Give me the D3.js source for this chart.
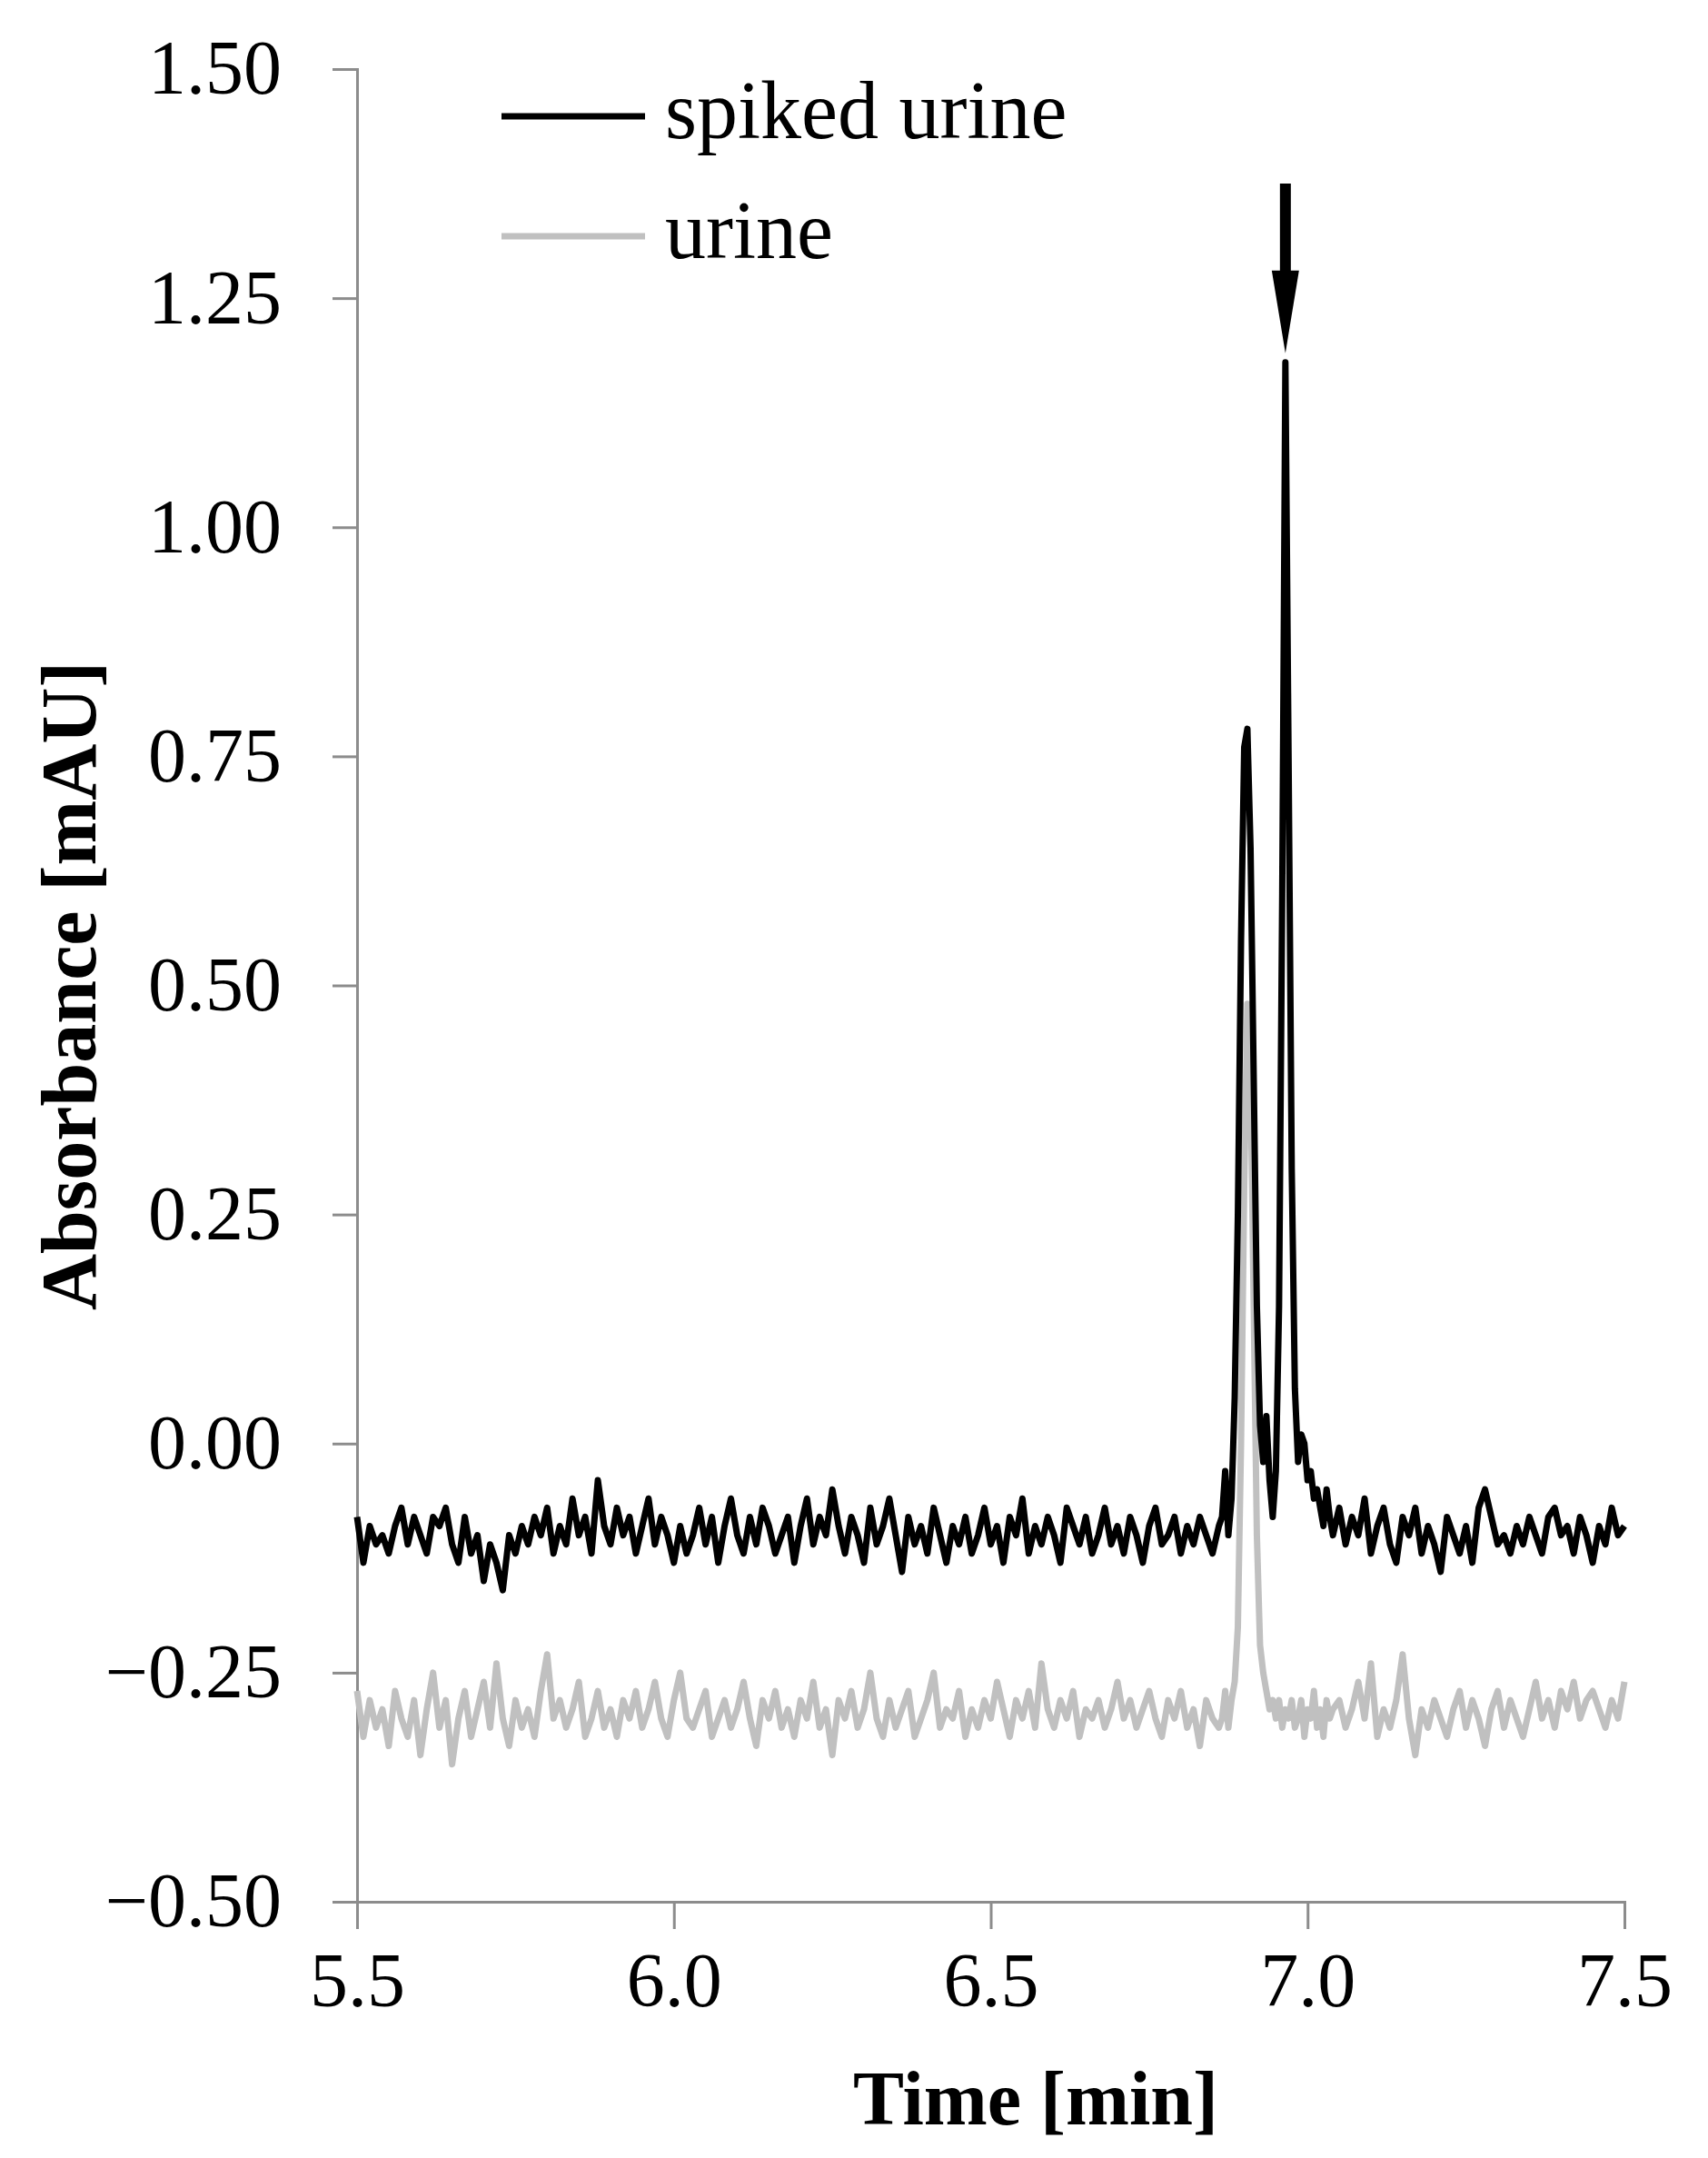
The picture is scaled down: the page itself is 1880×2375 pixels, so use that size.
<!DOCTYPE html><html><head><meta charset="utf-8"><script src="https://cdn.jsdelivr.net/npm/d3@7"></script>
<style>body{margin:0;background:#fff}</style></head><body><svg id="c" width="1880" height="2375"></svg>
<script>
const timesCoarseA = d3.range(137).map(i => +(5.5 + i*0.01).toFixed(3));
const timesFine = [6.865,6.87,6.875,6.88,6.885,6.89,6.895,6.9,6.905,6.91,6.915,6.92,6.925,6.93,6.935,6.94,6.945,6.95,6.955,6.96,6.965,6.97,6.975,6.98,6.985,6.99,6.995,7.0,7.005,7.01,7.015,7.02,7.025,7.03,7.035,7.04];
const timesCoarseB = d3.range(46).map(i => +(7.05 + i*0.01).toFixed(3));
const spikedA = [-0.08,-0.13,-0.09,-0.11,-0.10,-0.12,-0.09,-0.07,-0.11,-0.08,
 -0.10,-0.12,-0.08,-0.09,-0.07,-0.11,-0.13,-0.08,-0.12,-0.10,
 -0.15,-0.11,-0.13,-0.16,-0.10,-0.12,-0.09,-0.11,-0.08,-0.10,
 -0.07,-0.12,-0.09,-0.11,-0.06,-0.10,-0.08,-0.12,-0.04,-0.09,
 -0.11,-0.07,-0.10,-0.08,-0.12,-0.09,-0.06,-0.11,-0.08,-0.10,
 -0.13,-0.09,-0.12,-0.10,-0.07,-0.11,-0.08,-0.13,-0.09,-0.06,
 -0.10,-0.12,-0.08,-0.11,-0.07,-0.09,-0.12,-0.10,-0.08,-0.13,
 -0.09,-0.06,-0.11,-0.08,-0.10,-0.05,-0.09,-0.12,-0.08,-0.10,
 -0.13,-0.07,-0.11,-0.09,-0.06,-0.10,-0.14,-0.08,-0.11,-0.09,
 -0.12,-0.07,-0.10,-0.13,-0.09,-0.11,-0.08,-0.12,-0.10,-0.07,
 -0.11,-0.09,-0.13,-0.08,-0.10,-0.06,-0.12,-0.09,-0.11,-0.08,
 -0.10,-0.13,-0.07,-0.09,-0.11,-0.08,-0.12,-0.10,-0.07,-0.11,
 -0.09,-0.12,-0.08,-0.10,-0.13,-0.09,-0.07,-0.11,-0.10,-0.08,
 -0.12,-0.09,-0.11,-0.08,-0.10,-0.12,-0.09];
const spikedFine = [-0.08,-0.03,-0.10,-0.06,0.05,0.25,0.55,0.76,0.78,0.65,0.40,0.15,0.02,-0.02,0.03,-0.04,-0.08,-0.03,0.15,0.60,1.18,0.75,0.30,0.06,-0.02,0.01,0.0,-0.04,-0.03,-0.06,-0.05,-0.07,-0.09,-0.05,-0.08,-0.10];
const spikedB = [-0.07,-0.11,-0.08,-0.10,-0.06,-0.12,-0.09,-0.07,-0.11,-0.13,
 -0.08,-0.10,-0.07,-0.12,-0.09,-0.11,-0.14,-0.08,-0.10,-0.12,
 -0.09,-0.13,-0.07,-0.05,-0.08,-0.11,-0.10,-0.12,-0.09,-0.11,
 -0.08,-0.10,-0.12,-0.08,-0.07,-0.10,-0.09,-0.12,-0.08,-0.10,
 -0.13,-0.09,-0.11,-0.07,-0.10,-0.09];
const urineA = [-0.27,-0.32,-0.28,-0.31,-0.29,-0.33,-0.27,-0.30,-0.32,-0.28,
 -0.34,-0.29,-0.25,-0.31,-0.28,-0.35,-0.30,-0.27,-0.32,-0.29,
 -0.26,-0.31,-0.24,-0.30,-0.33,-0.28,-0.31,-0.29,-0.32,-0.27,
 -0.23,-0.30,-0.28,-0.31,-0.29,-0.26,-0.32,-0.30,-0.27,-0.31,
 -0.29,-0.32,-0.28,-0.30,-0.27,-0.31,-0.29,-0.26,-0.30,-0.32,
 -0.28,-0.25,-0.30,-0.31,-0.29,-0.27,-0.32,-0.30,-0.28,-0.31,
 -0.29,-0.26,-0.30,-0.33,-0.28,-0.30,-0.27,-0.31,-0.29,-0.32,
 -0.28,-0.30,-0.26,-0.31,-0.29,-0.34,-0.28,-0.30,-0.27,-0.31,
 -0.29,-0.25,-0.30,-0.32,-0.28,-0.31,-0.29,-0.27,-0.32,-0.30,
 -0.28,-0.25,-0.31,-0.29,-0.30,-0.27,-0.32,-0.29,-0.31,-0.28,
 -0.30,-0.26,-0.29,-0.32,-0.28,-0.30,-0.27,-0.31,-0.24,-0.29,
 -0.31,-0.28,-0.30,-0.27,-0.32,-0.29,-0.30,-0.28,-0.31,-0.29,
 -0.26,-0.30,-0.28,-0.31,-0.29,-0.27,-0.30,-0.32,-0.28,-0.30,
 -0.27,-0.31,-0.29,-0.33,-0.28,-0.30,-0.31];
const urineFine = [-0.30,-0.27,-0.31,-0.28,-0.26,-0.20,0.0,0.28,0.48,0.40,0.15,-0.10,-0.22,-0.25,-0.27,-0.29,-0.28,-0.30,-0.28,-0.31,-0.29,-0.30,-0.28,-0.31,-0.30,-0.28,-0.32,-0.29,-0.30,-0.27,-0.31,-0.29,-0.32,-0.28,-0.30,-0.29];
const urineB = [-0.28,-0.31,-0.29,-0.26,-0.30,-0.24,-0.32,-0.29,-0.31,-0.28,
 -0.23,-0.30,-0.34,-0.29,-0.31,-0.28,-0.30,-0.32,-0.29,-0.27,
 -0.31,-0.28,-0.30,-0.33,-0.29,-0.27,-0.31,-0.28,-0.30,-0.32,
 -0.29,-0.26,-0.30,-0.28,-0.31,-0.27,-0.29,-0.26,-0.30,-0.28,
 -0.27,-0.29,-0.31,-0.28,-0.30,-0.26];
const xTicks = [5.5,6.0,6.5,7.0,7.5];
const yTicks = [-0.5,-0.25,0,0.25,0.5,0.75,1.0,1.25,1.5];
const seriesNames = ["spiked urine","urine"];

const times = timesCoarseA.concat(timesFine, timesCoarseB);
const spiked = spikedA.concat(spikedFine, spikedB);
const urine = urineA.concat(urineFine, urineB);

const svg = d3.select("#c");
const L=393, R=1788, T=76, B=2093;
const x = d3.scaleLinear().domain([5.5,7.5]).range([L,R]);
const y = d3.scaleLinear().domain([-0.5,1.5]).range([B,T]);
const font = "Liberation Serif, 'DejaVu Serif', serif";

const ya = svg.append("g").attr("transform",`translate(${L},0)`)
 .call(d3.axisLeft(y).tickValues(yTicks).tickSize(27).tickFormat(d=>d3.format(".2f")(d).replace("-","\u2212")));
const xa = svg.append("g").attr("transform",`translate(0,${B})`)
 .call(d3.axisBottom(x).tickValues(xTicks).tickSize(30).tickFormat(d3.format(".1f")));
[ya,xa].forEach(g=>{g.select(".domain").attr("stroke","#8c8c8c").attr("stroke-width",3);
 g.selectAll(".tick line").attr("stroke","#8c8c8c").attr("stroke-width",3);
 g.selectAll("text").attr("font-family",font).attr("font-size",84).attr("fill","#000");});
ya.selectAll("text").attr("x",-83);
xa.selectAll("text").attr("y",55);

const line = d3.line().x((d,i)=>x(times[i])).y(d=>y(d));
svg.append("path").datum(urine).attr("d",line).attr("fill","none").attr("stroke","#c0c0c0").attr("stroke-width",7).attr("stroke-linejoin","round");
svg.append("path").datum(spiked).attr("d",line).attr("fill","none").attr("stroke","#000").attr("stroke-width",7).attr("stroke-linejoin","round");

// arrow
const ax = x(6.965);
svg.append("line").attr("x1",ax).attr("x2",ax).attr("y1",y(1.375)).attr("y2",y(1.27)).attr("stroke","#000").attr("stroke-width",12);
svg.append("path").attr("d",`M${ax-15},${y(1.28)} L${ax+15},${y(1.28)} L${ax},${y(1.19)} Z`).attr("fill","#000");

// legend
const cols=["#000","#c0c0c0"];
seriesNames.forEach((n,i)=>{
 const yy = 128 + i*132;
 svg.append("line").attr("x1",552).attr("x2",710).attr("y1",yy).attr("y2",yy).attr("stroke",cols[i]).attr("stroke-width",7);
 svg.append("text").attr("x",732).attr("y",yy+24).attr("font-family",font).attr("font-size",90).text(n);
});

svg.append("text").attr("x",1140).attr("y",2338).attr("text-anchor","middle").attr("font-family",font).attr("font-weight","bold").attr("font-size",84).text("Time [min]");
svg.append("text").attr("transform",`translate(105,1085) rotate(-90)`).attr("text-anchor","middle").attr("font-family",font).attr("font-weight","bold").attr("font-size",86).text("Absorbance [mAU]");
</script></body></html>
